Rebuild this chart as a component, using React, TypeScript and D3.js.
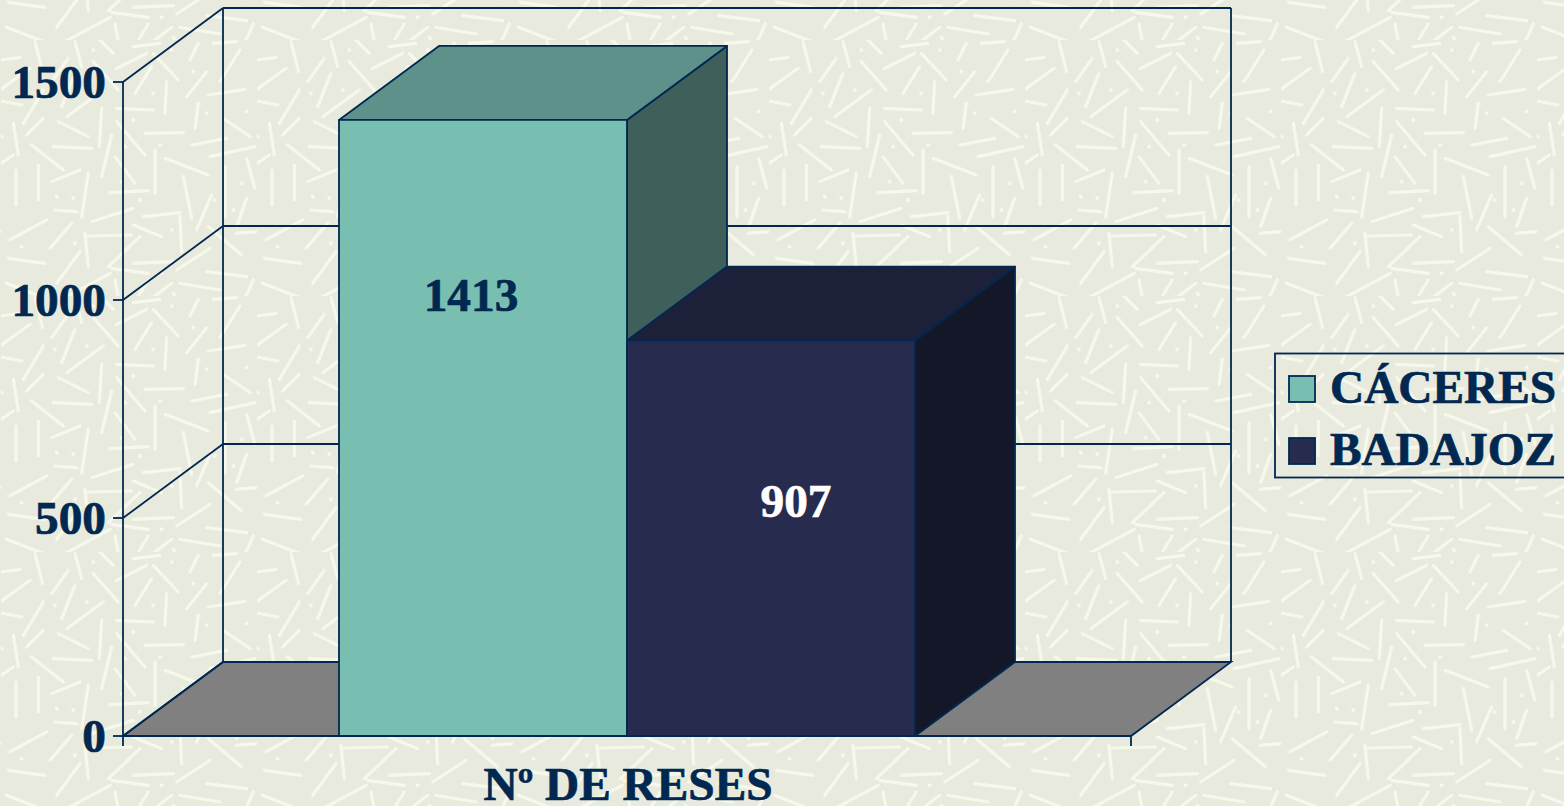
import React from "react";
import * as d3 from "d3";

const categories = ["CÁCERES", "BADAJOZ"];
const values = [1413, 907];
const yTicks = [0, 500, 1000, 1500];
const axisTitle = "Nº DE RESES";

const frontColors = ["#79bfb1", "#272c4e"];
const topColors = ["#5d9189", "#1c2039"];
const sideColors = ["#3e5f5a", "#141728"];
const labelColors = ["#002850", "#ffffff"];
const labelCenters = [471, 796];
const labelBaselines = [311, 517];

const LINE = "#002850";
const FONT = "'Liberation Serif','Times New Roman',serif";
const DX = 100;
const DY = -74;

const y = d3.scaleLinear().domain([0, 1500]).range([736, 82]);
const barX = d3.scaleBand<string>().domain(categories).range([339, 915]).padding(0);
const plotLeft = 123;
const plotRight = 1131;

// Background fibre tile (three times enlarged): x1, y1, x2, y2
const sticks: number[][] = [
  [225,125,248,215],[123,180,180,172],[120,270,210,205],[325,175,275,245],[345,220,305,320],
  [430,270,320,350],[250,270,190,370],[400,185,475,270],[345,125,365,200],[400,100,460,160],
  [470,205,560,160],[580,160,655,240],[575,200,525,280],[620,245,615,340],[470,325,580,330],
  [715,130,690,180],[740,215,680,290],[840,150,780,245],[745,285,855,268],[123,303,185,315],
  [160,370,175,465],[250,355,200,405],[295,365,385,410],[425,325,418,440],[280,440,395,445],
  [470,365,555,465],[555,400,670,398],[715,310,705,385],[790,355,870,410],[695,435,800,415],
  [750,470,885,440],[455,405,425,530],[215,435,310,510],[123,490,160,465],[168,510,168,615],
  [235,495,235,600],[275,545,360,510],[385,520,365,650],[465,470,525,550],[585,450,585,580],
  [615,475,745,525],[670,530,695,655],[795,500,795,650],[860,475,885,565],[755,585,710,690],
  [860,595,830,680],[450,578,565,572],[395,665,520,625],[550,650,660,638],[660,650,665,755],
  [745,680,845,765],[150,720,260,660],[270,745,335,670],[375,700,385,800],[385,708,515,705],
  [520,675,605,710],[540,710,445,800],[360,755,290,850],[255,790,145,775],[455,805,565,820],
  [520,790,640,785],[650,810,750,745],[740,815,860,830],[450,820,320,890],[140,850,255,895],
  [565,840,510,930],[635,850,530,930],[465,840,485,945],[660,850,780,870],[640,880,695,960],
  [830,700,890,695],[880,840,835,940],[285,630,350,635],[520,140,600,130],[760,130,830,125],
];
const specks: number[][] = [
  [380,270],[285,280],[400,150],[520,360],[600,435],[495,440],[375,590],[290,590],[340,595],
  [485,545],[540,600],[635,690],[820,630],[845,550],[185,740],[345,730],[605,820],[720,905],
  [860,335],[740,340],[700,215],[635,150],[165,905],[305,1000],[125,410],[580,280],[765,600],
];

function poly(points: number[][]) {
  return points.map((p) => p.join(",")).join(" ");
}

function Bar({ i }: { i: number }) {
  const x0 = barX(categories[i]) as number;
  const x1 = x0 + barX.bandwidth();
  const y0 = y(0);
  const yt = y(values[i]);
  const s = { stroke: LINE, strokeWidth: 1.8, strokeLinejoin: "round" as const };
  return (
    <g>
      <polygon points={poly([[x1, y0], [x1 + DX, y0 + DY], [x1 + DX, yt + DY], [x1, yt]])} fill={sideColors[i]} {...s} />
      <polygon points={poly([[x0, yt], [x0 + DX, yt + DY], [x1 + DX, yt + DY], [x1, yt]])} fill={topColors[i]} {...s} />
      <rect x={x0} y={yt} width={x1 - x0} height={y0 - yt} fill={frontColors[i]} {...s} />
    </g>
  );
}

export default function App() {
  const backL = plotLeft + DX;
  const backR = plotRight + DX;
  const lineProps = { stroke: LINE, strokeWidth: 1.8 };
  const ink = (c: string) => ({ fill: c, stroke: c, strokeWidth: 0.7 });
  return (
    <svg
      width={1564}
      height={806}
      viewBox="0 0 1564 806"
      style={{ position: "absolute", left: 0, top: 0, display: "block" }}
      fontFamily={FONT}
      fontWeight="bold"
      fontSize={47.3}
    >
      <defs>
        <filter id="soft" x="-5%" y="-5%" width="110%" height="110%">
          <feGaussianBlur stdDeviation={1.6} />
        </filter>
        <pattern id="fibres" width={256} height={256} patternUnits="userSpaceOnUse" x={1} y={40}>
          <rect width={256} height={256} fill="#e8eadd" />
          <g transform="scale(0.3333) translate(-123,-120)" filter="url(#soft)">
            {sticks.map(([a, b, c, d], k) => (
              <line key={k} x1={a} y1={b} x2={c} y2={d} stroke="#f7f8ec" strokeWidth={9.5} strokeLinecap="round" />
            ))}
            {specks.map(([a, b], k) => (
              <circle key={k} cx={a} cy={b} r={6} fill="#f7f8ec" />
            ))}
          </g>
        </pattern>
      </defs>
      <rect width={1564} height={806} fill="url(#fibres)" />

      {/* floor */}
      <polygon
        points={poly([[plotLeft, y(0)], [backL, y(0) + DY], [backR, y(0) + DY], [plotRight, y(0)]])}
        fill="#808080"
        {...lineProps}
      />

      {/* walls and gridlines */}
      {yTicks.map((t) => (
        <g key={t}>
          <line x1={plotLeft} y1={y(t)} x2={backL} y2={y(t) + DY} {...lineProps} />
          <line x1={backL} y1={y(t) + DY} x2={backR} y2={y(t) + DY} {...lineProps} />
          <line x1={plotLeft - 10} y1={y(t)} x2={plotLeft} y2={y(t)} {...lineProps} />
          <text x={106} y={y(t) + 16} textAnchor="end" {...ink(LINE)}>
            {t}
          </text>
        </g>
      ))}
      <line x1={plotLeft} y1={y(1500)} x2={plotLeft} y2={y(0) + 10} {...lineProps} />
      <line x1={backL} y1={y(1500) + DY} x2={backL} y2={y(0) + DY} {...lineProps} />
      <line x1={backR} y1={y(1500) + DY} x2={backR} y2={y(0) + DY} {...lineProps} />
      <line x1={plotLeft} y1={y(0)} x2={plotRight} y2={y(0)} {...lineProps} />
      <line x1={plotRight} y1={y(0)} x2={plotRight} y2={y(0) + 10} {...lineProps} />

      {/* bars */}
      {values.map((_, i) => (
        <Bar key={i} i={i} />
      ))}
      {values.map((v, i) => (
        <text key={i} x={labelCenters[i]} y={labelBaselines[i]} textAnchor="middle" {...ink(labelColors[i])}>
          {v}
        </text>
      ))}

      <text x={628} y={800} textAnchor="middle" {...ink(LINE)}>
        {axisTitle}
      </text>

      {/* legend */}
      <rect x={1275} y={353.5} width={300} height={124} fill="none" {...lineProps} />
      {categories.map((c, i) => (
        <g key={c}>
          <rect x={1289} y={376 + i * 62} width={26} height={26} fill={frontColors[i]} {...lineProps} />
          <text x={1330} y={403 + i * 62} {...ink(LINE)}>
            {c}
          </text>
        </g>
      ))}
    </svg>
  );
}
